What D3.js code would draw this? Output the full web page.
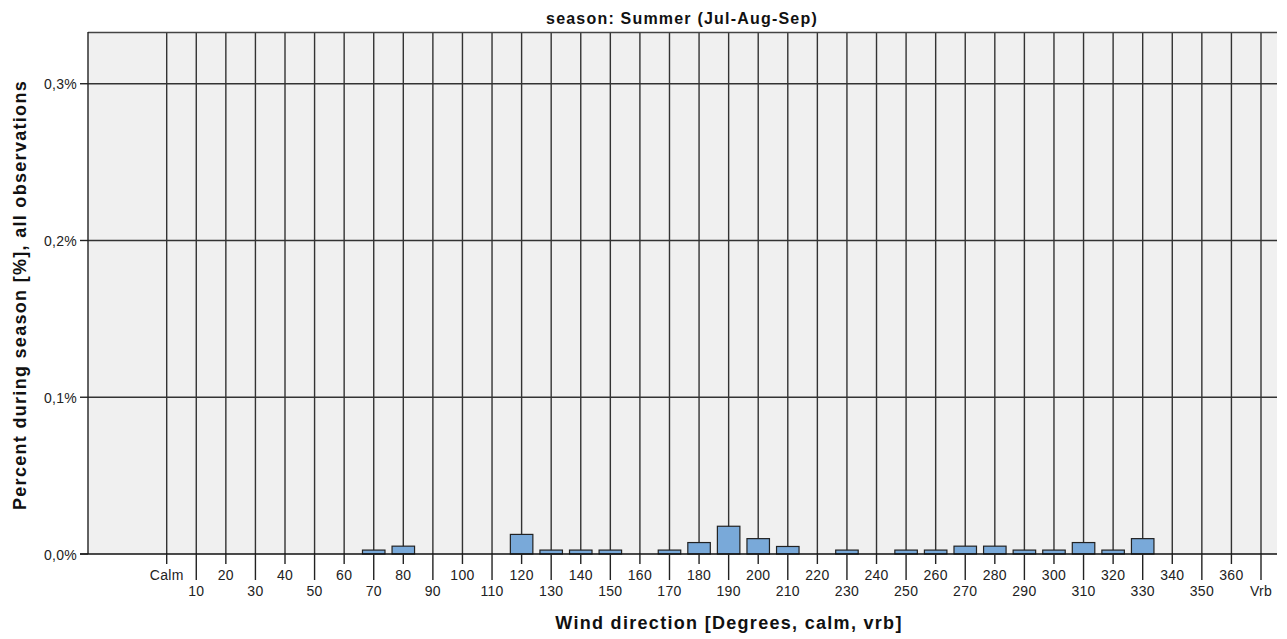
<!DOCTYPE html>
<html>
<head>
<meta charset="utf-8">
<script src="https://cdn.jsdelivr.net/npm/d3@7"></script>
<style>
  html, body { margin: 0; padding: 0; background: #fff; }
  svg { display: block; font-family: "Liberation Sans", Arial, sans-serif; }
</style>
</head>
<body>
<svg id="chart" width="1287" height="639"></svg>
<script>
// ---- data ----
const categories = ["Calm","10","20","30","40","50","60","70","80","90","100","110","120","130","140","150","160","170","180","190","200","210","220","230","240","250","260","270","280","290","300","310","320","330","340","350","360","Vrb"];
const values = [0,0,0,0,0,0,0,0.0025,0.005,0,0,0,0.0125,0.0025,0.0025,0.0025,0,0.0025,0.0073,0.0177,0.0098,0.0048,0,0.0025,0,0.0025,0.0025,0.005,0.005,0.0025,0.0025,0.0073,0.0025,0.0098,0,0,0,0];
const yTicks = [0, 0.1, 0.2, 0.3];
const yTickLabels = ["0,0%", "0,1%", "0,2%", "0,3%"];
const titleText = "season: Summer (Jul-Aug-Sep)";
const xTitle = "Wind direction [Degrees, calm, vrb]";
const yTitle = "Percent during season [%], all observations";

// ---- layout ----
const svg = d3.select("#chart");
const plotLeft = 88, plotRight = 1277, plotTop = 32, plotBottom = 554;

const x = d3.scalePoint().domain(categories).range([166.7, 1261]);
const y = d3.scaleLinear().domain([0, 0.333]).range([plotBottom, plotTop]);
const barW = 22.5;

// plot background
svg.append("rect")
  .attr("x", plotLeft).attr("y", plotTop)
  .attr("width", plotRight - plotLeft).attr("height", plotBottom - plotTop)
  .attr("fill", "#f0f0f0");

// horizontal grid lines
svg.append("g").selectAll("line").data(yTicks.filter(d => d > 0)).join("line")
  .attr("x1", plotLeft).attr("x2", plotRight)
  .attr("y1", d => y(d)).attr("y2", d => y(d))
  .attr("stroke", "#333").attr("stroke-width", 1.4);

// vertical grid lines
svg.append("g").selectAll("line").data(categories).join("line")
  .attr("x1", d => x(d)).attr("x2", d => x(d))
  .attr("y1", plotTop).attr("y2", plotBottom)
  .attr("stroke", "#333").attr("stroke-width", 1.4);

// top border & left border
svg.append("line").attr("x1", plotLeft).attr("x2", plotRight)
  .attr("y1", plotTop + 0.5).attr("y2", plotTop + 0.5)
  .attr("stroke", "#444").attr("stroke-width", 1.4);
svg.append("line").attr("x1", plotLeft).attr("x2", plotLeft)
  .attr("y1", plotTop).attr("y2", plotBottom)
  .attr("stroke", "#222").attr("stroke-width", 1.4);

// bars
svg.append("g").selectAll("rect").data(categories.map((c, i) => ({c, v: values[i]})).filter(d => d.v > 0)).join("rect")
  .attr("x", d => x(d.c) - barW / 2)
  .attr("y", d => y(d.v))
  .attr("width", barW)
  .attr("height", d => y(0) - y(d.v))
  .attr("fill", "#79a9d9")
  .attr("stroke", "#222").attr("stroke-width", 1.2);

// baseline
svg.append("line").attr("x1", 80).attr("x2", plotRight)
  .attr("y1", y(0)).attr("y2", y(0))
  .attr("stroke", "#111").attr("stroke-width", 1.6);

// y axis ticks and labels
const yg = svg.append("g");
yg.selectAll("line").data(yTicks).join("line")
  .attr("x1", 80).attr("x2", plotLeft)
  .attr("y1", d => y(d)).attr("y2", d => y(d))
  .attr("stroke", "#222").attr("stroke-width", 1.4);
yg.selectAll("text").data(yTicks).join("text")
  .attr("x", 77).attr("y", d => y(d))
  .attr("dy", "0.4em")
  .attr("text-anchor", "end")
  .attr("font-size", 14).attr("letter-spacing", 0.3).attr("fill", "#222")
  .text((d, i) => yTickLabels[i]);

// x axis ticks and labels (alternating rows)
const xg = svg.append("g");
xg.selectAll("line").data(categories).join("line")
  .attr("x1", d => x(d)).attr("x2", d => x(d))
  .attr("y1", plotBottom)
  .attr("y2", (d, i) => i % 2 === 0 ? plotBottom + 10 : plotBottom + 26)
  .attr("stroke", "#222").attr("stroke-width", 1.4);
xg.selectAll("text").data(categories).join("text")
  .attr("x", d => x(d))
  .attr("y", (d, i) => i % 2 === 0 ? plotBottom + 26 : plotBottom + 42)
  .attr("text-anchor", "middle")
  .attr("font-size", 14).attr("letter-spacing", 0.3).attr("fill", "#222")
  .text(d => d);

// titles
svg.append("text").attr("x", 682).attr("y", 24)
  .attr("text-anchor", "middle").attr("font-size", 16).attr("font-weight", "bold")
  .attr("letter-spacing", 1.2)
  .attr("fill", "#111").text(titleText);

svg.append("text").attr("x", 729).attr("y", 629)
  .attr("text-anchor", "middle").attr("font-size", 18).attr("font-weight", "bold")
  .attr("letter-spacing", 1.3)
  .attr("fill", "#111").text(xTitle);

svg.append("text")
  .attr("transform", "translate(26,295) rotate(-90)")
  .attr("text-anchor", "middle").attr("font-size", 18).attr("font-weight", "bold")
  .attr("letter-spacing", 1.3)
  .attr("fill", "#111").text(yTitle);
</script>
</body>
</html>
